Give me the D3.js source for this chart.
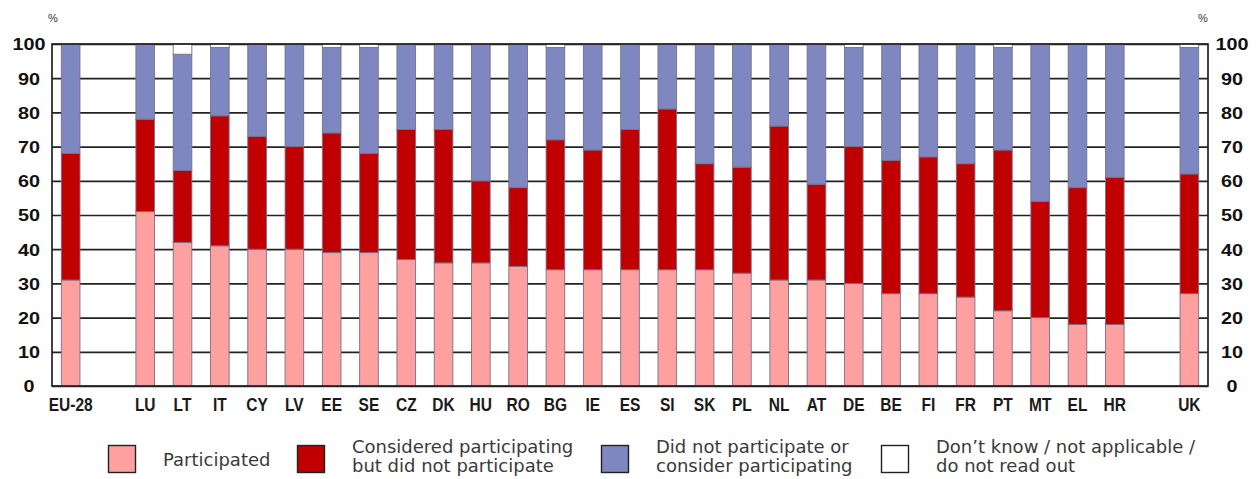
<!DOCTYPE html>
<html>
<head>
<meta charset="utf-8">
<script src="https://cdn.jsdelivr.net/npm/d3@7"></script>
<style>
  html, body { margin: 0; padding: 0; background: #fff; }
  svg { display: block; }
</style>
</head>
<body>
<svg id="chart" width="1259" height="479"></svg>
<script>
// Country slots along the x axis; empty strings are spacer slots.
const categories = ["EU-28", "", "LU", "LT", "IT", "CY", "LV", "EE", "SE", "CZ", "DK", "HU", "RO",
  "BG", "IE", "ES", "SI", "SK", "PL", "NL", "AT", "DE", "BE", "FI", "FR", "PT", "MT", "EL", "HR", "", "UK"];

// Shares in % for each slot (null for spacers)
const participated = [31, null, 51, 42, 41, 40, 40, 39, 39, 37, 36, 36, 35,
  34, 34, 34, 34, 34, 33, 31, 31, 30, 27, 27, 26, 22, 20, 18, 18, null, 27];
const considered = [37, null, 27, 21, 38, 33, 30, 35, 29, 38, 39, 24, 23,
  38, 35, 41, 47, 31, 31, 45, 28, 40, 39, 40, 39, 47, 34, 40, 43, null, 35];
const didNot = [32, null, 22, 34, 20, 27, 30, 25, 31, 25, 25, 40, 42,
  27, 31, 25, 19, 35, 36, 24, 41, 29, 34, 33, 35, 30, 46, 42, 39, null, 37];
const dontKnow = [0, null, 0, 3, 1, 0, 0, 1, 1, 0, 0, 0, 0,
  1, 0, 0, 0, 0, 0, 0, 0, 1, 0, 0, 0, 1, 0, 0, 0, null, 1];

const yTicks = [0, 10, 20, 30, 40, 50, 60, 70, 80, 90, 100];

const seriesKeys = ["participated", "considered", "didNot", "dontKnow"];
const seriesColors = ["#ffa0a0", "#c00000", "#7f87c0", "#ffffff"];
const legendLabels = [
  ["Participated"],
  ["Considered participating", "but did not participate"],
  ["Did not participate or", "consider participating"],
  ["Don\u2019t know / not applicable /", "do not read out"]
];

const rows = categories.map((c, i) => ({
  idx: i, name: c,
  participated: participated[i], considered: considered[i],
  didNot: didNot[i], dontKnow: dontKnow[i]
}));

const svg = d3.select("#chart");
const plotL = 52, plotR = 1208, plotT = 44, plotB = 386;

const x = d3.scaleBand()
  .domain(d3.range(categories.length))
  .range([plotL, plotR])
  .paddingInner(0.5)
  .paddingOuter(0.25);

const y = d3.scaleLinear().domain([0, 100]).range([plotB, plotT]);

// Horizontal gridlines behind the bars
svg.append("g")
  .attr("transform", `translate(${plotL},0)`)
  .call(d3.axisLeft(y).tickValues(yTicks).tickSize(-(plotR - plotL)).tickFormat(""))
  .call(g => g.select(".domain").remove())
  .call(g => g.selectAll("line").attr("stroke", "#222").attr("stroke-width", 1.7));

// Stacked bars
const stacked = d3.stack().keys(seriesKeys)
  .value((d, k) => d[k] == null ? 0 : d[k])(rows.filter(r => r.participated != null));

svg.append("g").selectAll("g")
  .data(stacked)
  .join("g")
  .attr("fill", (d, i) => seriesColors[i])
  .selectAll("rect")
  .data(d => d.filter(s => s[1] - s[0] > 0))
  .join("rect")
  .attr("x", d => x(d.data.idx))
  .attr("width", x.bandwidth())
  .attr("y", d => y(d[1]))
  .attr("height", d => y(d[0]) - y(d[1]))
  .attr("stroke", "#77708a")
  .attr("stroke-width", 0.9);

// Plot frame
svg.append("rect")
  .attr("x", plotL).attr("y", plotT)
  .attr("width", plotR - plotL).attr("height", plotB - plotT)
  .attr("fill", "none").attr("stroke", "#222").attr("stroke-width", 1.7);

// Value axes on both sides
const tickFont = g => g.selectAll("text")
  .attr("font-family", "'Liberation Sans', Arial, sans-serif")
  .attr("font-weight", "bold")
  .attr("font-size", 16.5)
  .attr("fill", "#111")
  .attr("text-anchor", "middle");

svg.append("g")
  .attr("transform", "translate(29,0)")
  .call(d3.axisLeft(y).tickValues(yTicks).tickSize(0).tickPadding(0))
  .call(g => g.select(".domain").remove())
  .call(tickFont)
  .call(g => g.selectAll("text").attr("transform", "scale(1.2,1)").attr("x", 0).attr("dy", "0.36em"));

svg.append("g")
  .attr("transform", "translate(1232,0)")
  .call(d3.axisRight(y).tickValues(yTicks).tickSize(0).tickPadding(0))
  .call(g => g.select(".domain").remove())
  .call(tickFont)
  .call(g => g.selectAll("text").attr("transform", "scale(1.2,1)").attr("x", 0).attr("dy", "0.36em"));

// Percent unit labels
svg.append("text").attr("x", 53).attr("y", 22).text("%")
  .attr("font-family", "'Liberation Sans', Arial, sans-serif")
  .attr("font-size", 11).attr("fill", "#333").attr("text-anchor", "middle");
svg.append("text").attr("x", 1203).attr("y", 22).text("%")
  .attr("font-family", "'Liberation Sans', Arial, sans-serif")
  .attr("font-size", 11).attr("fill", "#333").attr("text-anchor", "middle");

// Country labels
svg.append("g")
  .attr("transform", `translate(0,${plotB})`)
  .call(d3.axisBottom(x).tickSize(0).tickPadding(0).tickFormat(i => categories[i]))
  .call(g => g.select(".domain").remove())
  .call(g => g.selectAll("text")
    .attr("font-family", "'Liberation Sans', Arial, sans-serif")
    .attr("font-weight", "bold")
    .attr("font-size", 18.5)
    .attr("fill", "#1a1a1a")
    .attr("y", 25.5).attr("dy", 0)
    .attr("transform", "scale(0.84,1)"));

// Legend
const legendX = [108, 297, 601, 881];
const legend = svg.append("g");
legendLabels.forEach((lines, i) => {
  const g = legend.append("g").attr("transform", `translate(${legendX[i]},445)`);
  g.append("rect").attr("x", 0.5).attr("y", 0.5).attr("width", 27).attr("height", 27)
    .attr("fill", seriesColors[i]).attr("stroke", "#222").attr("stroke-width", 1.4);
  const t = g.append("text")
    .attr("font-family", "'DejaVu Sans', Verdana, sans-serif")
    .attr("font-size", 18)
    .attr("fill", "#3a3a3a");
  if (lines.length === 1) {
    t.append("tspan").attr("x", 55).attr("y", 21).text(lines[0]);
  } else {
    lines.forEach((l, j) => t.append("tspan").attr("x", 55).attr("y", 8 + j * 19).text(l));
  }
});
</script>
</body>
</html>
